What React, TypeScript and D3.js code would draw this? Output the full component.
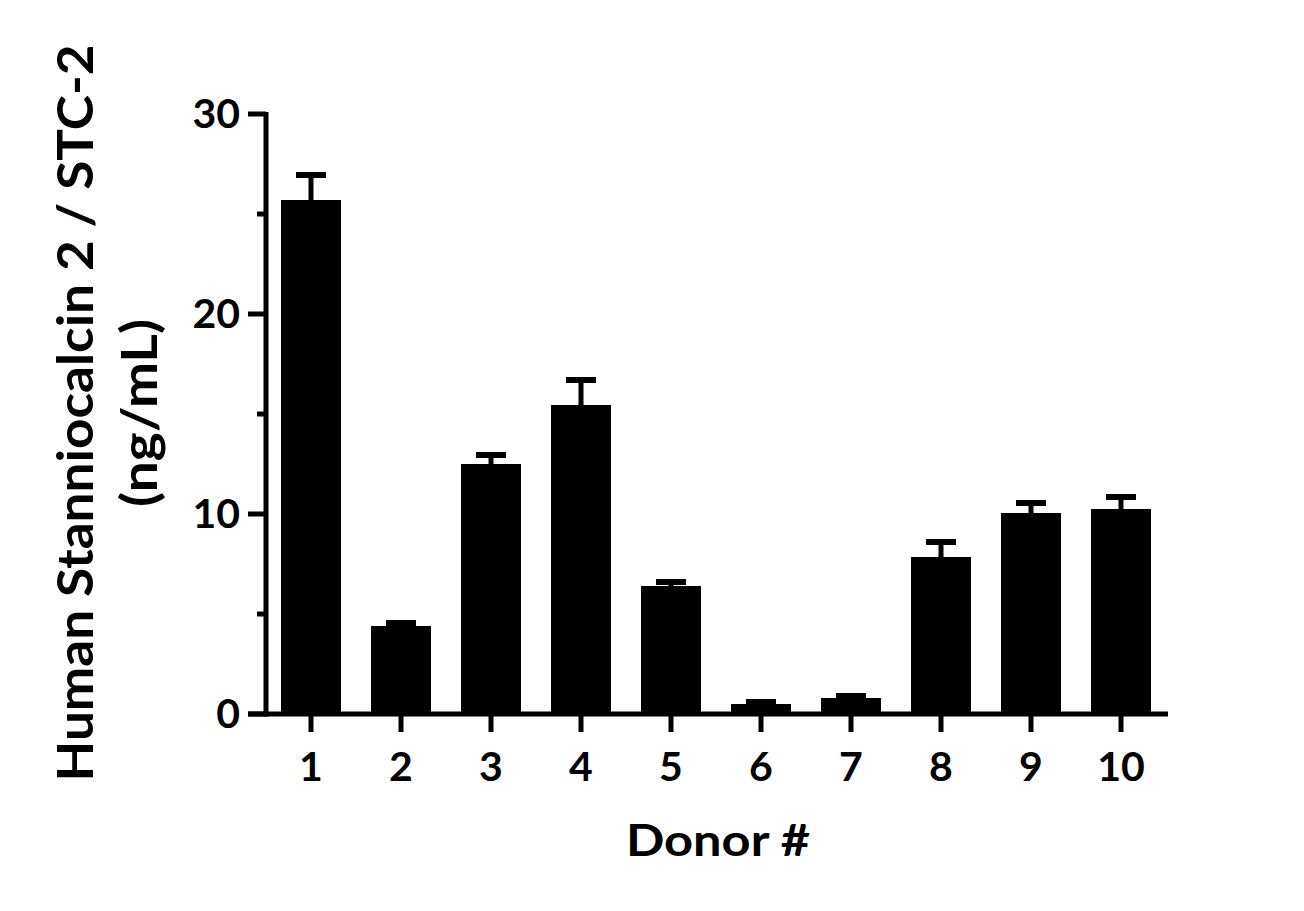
import React from 'react';
import * as d3 from 'd3';

const donors = ['1', '2', '3', '4', '5', '6', '7', '8', '9', '10'];
const meanValues = [25.7, 4.4, 12.5, 15.45, 6.4, 0.5, 0.8, 7.85, 10.05, 10.25];
const sdValues = [1.25, 0.15, 0.45, 1.25, 0.2, 0.1, 0.1, 0.75, 0.5, 0.6];
const majorTicks = [0, 10, 20, 30];
const minorTicks = [5, 15, 25];

const FONT = "Lato, 'Open Sans', sans-serif";

export default function App() {
  const width = 1304;
  const height = 911;

  const x = d3.scaleBand<string>()
    .domain(donors)
    .range([266, 1166])
    .paddingInner(1 / 3)
    .paddingOuter(1 / 6);

  const y = d3.scaleLinear()
    .domain([0, 30])
    .range([714, 114]);

  const bw = x.bandwidth();
  const capW = 30;

  return (
    <svg
      width={width}
      height={height}
      style={{ position: 'absolute', left: 0, top: 0, background: '#fff' }}
      fontFamily={FONT}
      fontWeight={700}
    >
      {/* bars */}
      {donors.map((d, i) => (
        <rect
          key={'b' + d}
          x={x(d)}
          y={y(meanValues[i])}
          width={bw}
          height={y(0) - y(meanValues[i])}
          fill="#000"
        />
      ))}

      {/* error bars, upper only */}
      {donors.map((d, i) => {
        const cx = (x(d) || 0) + bw / 2;
        const top = y(meanValues[i] + sdValues[i]);
        return (
          <g key={'e' + d} stroke="#000">
            <line x1={cx} x2={cx} y1={y(meanValues[i])} y2={top} strokeWidth={5} />
            <line x1={cx - capW / 2} x2={cx + capW / 2} y1={top} y2={top} strokeWidth={6} />
          </g>
        );
      })}

      {/* y axis */}
      <line x1={266} x2={266} y1={y(30) - 2} y2={y(0) + 2.5} stroke="#000" strokeWidth={5} />
      {majorTicks.map(t => (
        <g key={'yt' + t}>
          <line x1={248} x2={266} y1={y(t)} y2={y(t)} stroke="#000" strokeWidth={5} />
          <text x={240} y={y(t) + 14} textAnchor="end" fontSize={41} fill="#000">{t}</text>
        </g>
      ))}
      {minorTicks.map(t => (
        <line key={'ym' + t} x1={257} x2={266} y1={y(t)} y2={y(t)} stroke="#000" strokeWidth={5} />
      ))}

      {/* x axis */}
      <line x1={248} x2={1168} y1={y(0)} y2={y(0)} stroke="#000" strokeWidth={5} />
      {donors.map(d => {
        const cx = (x(d) || 0) + bw / 2;
        return (
          <g key={'xt' + d}>
            <line x1={cx} x2={cx} y1={y(0)} y2={732} stroke="#000" strokeWidth={5} />
            <text x={cx} y={781} textAnchor="middle" fontSize={41} fill="#000">{d}</text>
          </g>
        );
      })}

      {/* axis titles */}
      <text x={718} y={856} textAnchor="middle" fontSize={44} fill="#000"
        textLength={184} lengthAdjust="spacingAndGlyphs">Donor #</text>
      <g transform="translate(93,413) rotate(-90)">
        <text x={0} y={0} textAnchor="middle" fontSize={50} fill="#000"
          textLength={737} lengthAdjust="spacingAndGlyphs">Human Stanniocalcin 2 / STC-2</text>
        <text x={0} y={64} textAnchor="middle" fontSize={50} fill="#000"
          textLength={188} lengthAdjust="spacingAndGlyphs">(ng/mL)</text>
      </g>
    </svg>
  );
}
